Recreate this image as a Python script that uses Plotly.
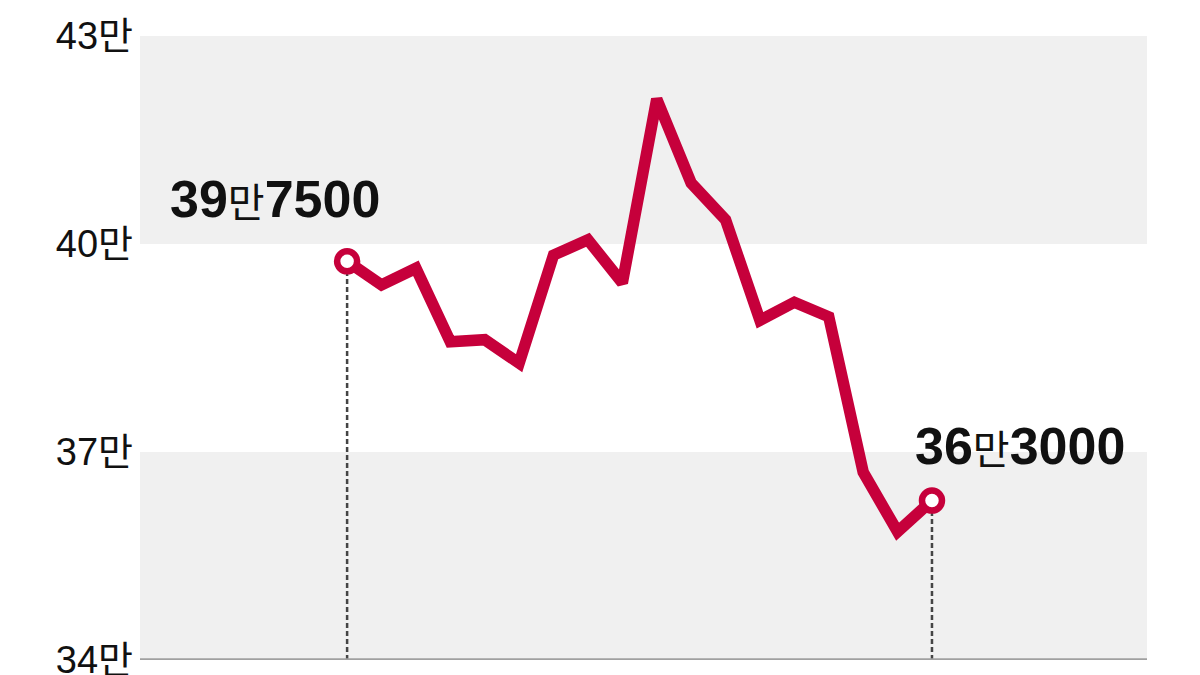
import plotly.graph_objects as go

# Data (unit: 만 원)
idx = list(range(18))
values = [39.75, 39.41, 39.65, 38.59, 38.62, 38.28, 39.84, 40.06, 39.44,
          42.09, 40.88, 40.35, 38.90, 39.16, 38.95, 36.71, 35.85, 36.30]
tick_vals = [34, 37, 40, 43]
tick_text = ["34만", "37만", "40만", "43만"]
start_label = ("39", "만", "7500")
end_label = ("36", "만", "3000")

RED = "#C6003B"
FONT = "Liberation Sans, Noto Sans CJK KR, sans-serif"

fig = go.Figure()

# shaded bands
for y0, y1 in [(40, 43), (34, 37)]:
    fig.add_shape(type="rect", xref="paper", yref="y", x0=0, x1=1, y0=y0, y1=y1,
                  fillcolor="#F0F0F0", line_width=0, layer="below")

# dotted drop lines for first and last points
for i in (0, len(values) - 1):
    fig.add_shape(type="line", xref="x", yref="y", x0=idx[i], x1=idx[i],
                  y0=34, y1=values[i], line=dict(color="#444444", width=2.5, dash="5px,3px"),
                  layer="below")

# baseline
fig.add_shape(type="line", xref="paper", yref="y", x0=0, x1=1, y0=34, y1=34,
              line=dict(color="#A0A0A0", width=3.5))

fig.add_trace(go.Scatter(x=idx, y=values, mode="lines",
                         line=dict(color=RED, width=11.5, shape="linear"),
                         hoverinfo="skip", cliponaxis=False))
fig.add_trace(go.Scatter(x=[idx[0], idx[-1]], y=[values[0], values[-1]], mode="markers",
                         marker=dict(size=20, color="white", line=dict(color=RED, width=6.5)),
                         hoverinfo="skip", cliponaxis=False))

def lbl(parts):
    a, b, c = parts
    return (f"<b>{a}</b><span style='font-size:40px;font-weight:normal'>{b}</span><b>{c}</b>")

fig.add_annotation(x=idx[0], y=values[0], xref="x", yref="y", text=lbl(start_label),
                   showarrow=False, xshift=-72, yshift=62,
                   font=dict(family=FONT, size=52, color="#111111"))
fig.add_annotation(x=idx[-1], y=values[-1], xref="x", yref="y", text=lbl(end_label),
                   showarrow=False, xshift=88, yshift=55,
                   font=dict(family=FONT, size=52, color="#111111"))

fig.update_layout(
    width=1192, height=667,
    margin=dict(l=132, r=53, t=28, b=15, autoexpand=False),
    paper_bgcolor="white", plot_bgcolor="white",
    showlegend=False,
    xaxis=dict(range=[-6.02, 23.25], visible=False, fixedrange=True, automargin=False),
    yaxis=dict(range=[34, 43], tickvals=tick_vals, ticktext=tick_text,
               showgrid=False, zeroline=False, showline=False, ticks="",
               ticklabelstandoff=6, ticklabeloverflow="allow", automargin=False,
               tickfont=dict(family=FONT, size=38, color="#111111"), fixedrange=True),
)

fig.write_html("out.html")
